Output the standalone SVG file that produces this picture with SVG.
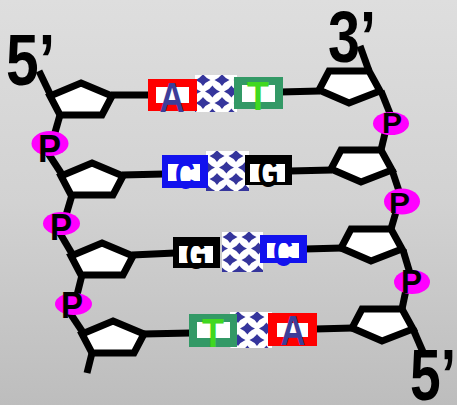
<svg xmlns="http://www.w3.org/2000/svg" xmlns:xlink="http://www.w3.org/1999/xlink" width="457" height="405" viewBox="0 0 457 405">
  <defs>
    <linearGradient id="bg" x1="0" y1="0" x2="0" y2="1">
      <stop offset="0" stop-color="#dedede"/>
      <stop offset="0.5" stop-color="#d2d2d2"/>
      <stop offset="1" stop-color="#bdbdbd"/>
    </linearGradient>
    <!-- hydrogen-bond checker: rounded diamonds on white -->
    <pattern id="hbond" width="19" height="23" patternUnits="userSpaceOnUse">
      <rect width="19" height="23" fill="#fff"/>
      <g fill="#36369c">
        <path d="M8,-1 Q10.6,2.9 15.5,5 Q10.6,7.1 8,11 Q5.4,7.1 0.5,5 Q5.4,2.9 8,-1Z"/>
        <path d="M8,22 Q10.6,25.9 15.5,28 Q10.6,30.1 8,34 Q5.4,30.1 0.5,28 Q5.4,25.9 8,22Z"/>
        <path d="M17.5,10.5 Q20.1,14.4 25,16.5 Q20.1,18.6 17.5,22.5 Q14.9,18.6 10,16.5 Q14.9,14.4 17.5,10.5Z"/>
        <path d="M-1.5,10.5 Q1.1,14.4 6,16.5 Q1.1,18.6 -1.5,22.5 Q-4.1,18.6 -9,16.5 Q-4.1,14.4 -1.5,10.5Z"/>
      </g>
    </pattern>
    <filter id="soft" x="-5%" y="-5%" width="110%" height="110%">
      <feGaussianBlur stdDeviation="0.5"/>
    </filter>
    <!-- deoxyribose rings: left strand points up, right strand points down -->
    <path id="sugar-left" d="M0,0 L31,13 L21,32 L-21,32 L-31,13 Z"/>
    <path id="sugar-right" d="M0,0 L40,0 L51,20 L20,32 L-10,19 Z"/>
  </defs>
  <style>
    .bb { fill: none; stroke: #000; stroke-width: 7; }
    .sugar { fill: #fff; stroke: #000; stroke-width: 7; stroke-linejoin: miter; }
    .phos { fill: #ff00ff; }
    .ptxt { font-family: "Liberation Sans", Arial, sans-serif; font-weight: bold; fill: #000; }
    .end { font-family: "Liberation Sans", Arial, sans-serif; font-weight: bold; font-size: 72px; fill: #000; }
    .inner { fill: #fff; }
    .lt { font-family: "Liberation Sans", Arial, sans-serif; font-weight: bold; text-anchor: middle; }
    .red { fill: #ff0000; }
    .green { fill: #339966; }
    .blue { fill: #1212ee; }
    .black { fill: #000; }
    .chk { fill: url(#hbond); filter: url(#soft); }
  </style>

  <rect width="457" height="405" fill="url(#bg)"/>

  <!-- backbone and base-to-sugar bonds -->
  <g id="connectors" class="bb">
    <!-- left strand -->
    <line x1="39" y1="71" x2="51" y2="96"/>
    <line x1="60" y1="115" x2="52" y2="143"/>
    <line x1="46" y1="150" x2="63" y2="176"/>
    <line x1="72" y1="195" x2="64" y2="222"/>
    <line x1="58" y1="230" x2="74" y2="257"/>
    <line x1="82" y1="275" x2="75" y2="303"/>
    <line x1="68" y1="310" x2="84" y2="334"/>
    <line x1="92" y1="353" x2="87" y2="373"/>
    <!-- right strand -->
    <line x1="360" y1="46" x2="369" y2="71"/>
    <line x1="381" y1="91" x2="393" y2="121"/>
    <line x1="387" y1="125" x2="381" y2="150"/>
    <line x1="392" y1="170" x2="402" y2="200"/>
    <line x1="398" y1="205" x2="391" y2="229"/>
    <line x1="403" y1="250" x2="412" y2="280"/>
    <line x1="407" y1="285" x2="402" y2="309"/>
    <line x1="413" y1="329" x2="423" y2="352"/>
    <!-- base bonds -->
    <line x1="111" y1="95" x2="150" y2="95"/>
    <line x1="280" y1="92" x2="320" y2="91"/>
    <line x1="122" y1="175" x2="164" y2="174"/>
    <line x1="290" y1="171" x2="332" y2="170"/>
    <line x1="132" y1="255" x2="175" y2="253"/>
    <line x1="305" y1="249" x2="342" y2="248"/>
    <line x1="143" y1="334" x2="191" y2="333"/>
    <line x1="315" y1="329" x2="353" y2="328"/>
  </g>

  <!-- sugars -->
  <g id="sugar-l1" transform="translate(81,83)"><use xlink:href="#sugar-left" class="sugar"/></g>
  <g id="sugar-l2" transform="translate(92,163)"><use xlink:href="#sugar-left" class="sugar"/></g>
  <g id="sugar-l3" transform="translate(102,243)"><use xlink:href="#sugar-left" class="sugar"/></g>
  <g id="sugar-l4" transform="translate(113,321)"><use xlink:href="#sugar-left" class="sugar"/></g>
  <g id="sugar-r1" transform="translate(329,71)"><use xlink:href="#sugar-right" class="sugar"/></g>
  <g id="sugar-r2" transform="translate(341,150)"><use xlink:href="#sugar-right" class="sugar"/></g>
  <g id="sugar-r3" transform="translate(351,229)"><use xlink:href="#sugar-right" class="sugar"/></g>
  <g id="sugar-r4" transform="translate(362,309)"><use xlink:href="#sugar-right" class="sugar"/></g>

  <!-- hydrogen bonds between paired bases -->
  <g id="hbond-1" transform="translate(195,75)"><rect class="chk" width="42" height="37"/></g>
  <g id="hbond-2" transform="translate(209,151)"><rect class="chk" x="-3" width="43" height="40"/></g>
  <g id="hbond-3" transform="translate(222,232)"><rect class="chk" width="41" height="40"/></g>
  <g id="hbond-4" transform="translate(230,312)"><rect class="chk" width="42" height="36"/></g>

  <!-- bases -->
  <g id="base-a1">
    <rect class="red" x="148" y="79" width="49" height="32"/>
    <rect class="inner" x="156" y="87" width="33" height="16"/>
    <text class="lt" x="172" y="112" font-size="42" textLength="25" lengthAdjust="spacingAndGlyphs" fill="#3d3d99">A</text>
  </g>
  <g id="base-t1">
    <rect class="green" x="234" y="77" width="49" height="32"/>
    <rect class="inner" x="242" y="85" width="33" height="17"/>
    <text class="lt" x="258" y="110" font-size="40" textLength="22" lengthAdjust="spacingAndGlyphs" fill="#40d820">T</text>
  </g>
  <g id="base-c2">
    <rect class="blue" x="162" y="155" width="46" height="33"/>
    <rect class="inner" x="168" y="164" width="32" height="17"/>
    <text class="lt" x="185" y="189" font-size="40" textLength="20" lengthAdjust="spacingAndGlyphs" fill="#1212ee">C</text>
  </g>
  <g id="base-g2">
    <rect class="black" x="245" y="155" width="47" height="30"/>
    <rect class="inner" x="250" y="164" width="35" height="18"/>
    <text class="lt" x="268" y="187" font-size="40" textLength="21" lengthAdjust="spacingAndGlyphs" fill="#000">G</text>
  </g>
  <g id="base-g3">
    <rect class="black" x="173" y="237" width="47" height="31"/>
    <rect class="inner" x="179" y="246" width="34" height="17"/>
    <text class="lt" x="196" y="269" font-size="40" textLength="21" lengthAdjust="spacingAndGlyphs" fill="#000">G</text>
  </g>
  <g id="base-c3">
    <rect class="blue" x="260" y="235" width="47" height="28"/>
    <rect class="inner" x="267" y="243" width="32" height="15"/>
    <text class="lt" x="283" y="266" font-size="40" textLength="20" lengthAdjust="spacingAndGlyphs" fill="#1212ee">C</text>
  </g>
  <g id="base-t4">
    <rect class="green" x="189" y="314" width="48" height="33"/>
    <rect class="inner" x="197" y="322" width="33" height="16"/>
    <text class="lt" x="213" y="347" font-size="40" textLength="22" lengthAdjust="spacingAndGlyphs" fill="#40d820">T</text>
  </g>
  <g id="base-a4">
    <rect class="red" x="268" y="313" width="49" height="33"/>
    <rect class="inner" x="277" y="323" width="31" height="14"/>
    <text class="lt" x="293" y="345" font-size="42" textLength="25" lengthAdjust="spacingAndGlyphs" fill="#3d3d99">A</text>
  </g>

  <!-- phosphates -->
  <g id="phosphate-l1"><ellipse class="phos" cx="50" cy="143.5" rx="18.5" ry="12.5"/><text class="ptxt" x="38" y="162" font-size="38" textLength="23" lengthAdjust="spacingAndGlyphs">P</text></g>
  <g id="phosphate-l2"><ellipse class="phos" cx="61.5" cy="223.5" rx="18.5" ry="11.5"/><text class="ptxt" x="50" y="240" font-size="37" textLength="22" lengthAdjust="spacingAndGlyphs">P</text></g>
  <g id="phosphate-l3"><ellipse class="phos" cx="73.5" cy="304" rx="18.5" ry="11"/><text class="ptxt" x="61" y="318" font-size="36" textLength="22" lengthAdjust="spacingAndGlyphs">P</text></g>
  <g id="phosphate-r1"><ellipse class="phos" cx="391" cy="123.5" rx="18" ry="11.5"/><text class="ptxt" x="382" y="133" font-size="30" textLength="20" lengthAdjust="spacingAndGlyphs">P</text></g>
  <g id="phosphate-r2"><ellipse class="phos" cx="402" cy="201.5" rx="18" ry="13"/><text class="ptxt" x="389" y="213" font-size="30" textLength="21" lengthAdjust="spacingAndGlyphs">P</text></g>
  <g id="phosphate-r3"><ellipse class="phos" cx="412" cy="282" rx="18" ry="12"/><text class="ptxt" x="401" y="293" font-size="33" textLength="21" lengthAdjust="spacingAndGlyphs">P</text></g>

  <!-- strand ends -->
  <g id="end-5-top"><text class="end" x="6" y="85" textLength="49" lengthAdjust="spacingAndGlyphs">5’</text></g>
  <g id="end-3-top"><text class="end" x="328" y="62" textLength="48" lengthAdjust="spacingAndGlyphs">3’</text></g>
  <g id="end-5-bottom"><text class="end" x="410" y="400" textLength="46" lengthAdjust="spacingAndGlyphs">5’</text></g>
</svg>
